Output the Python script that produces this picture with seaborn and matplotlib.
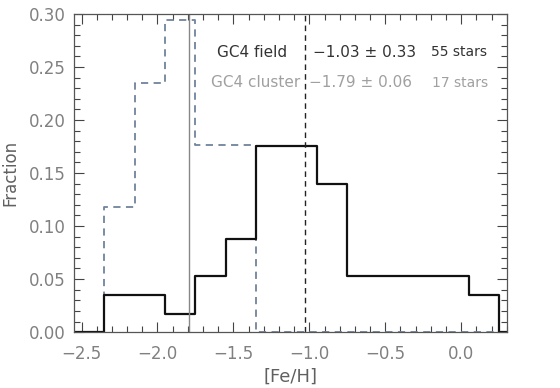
import numpy as np
import pandas as pd
import matplotlib
matplotlib.use("Agg")
import matplotlib.pyplot as plt
from matplotlib.ticker import MultipleLocator, FormatStrFormatter
import seaborn as sns

# bin edges in [Fe/H], width 0.2
bin_edges = [-2.55, -2.35, -2.15, -1.95, -1.75, -1.55, -1.35, -1.15,
             -0.95, -0.75, -0.55, -0.35, -0.15, 0.05, 0.25, 0.45]
# fraction per bin
field_frac = [0.0, 0.035, 0.035, 0.0175, 0.0526, 0.0877, 0.1754, 0.1754,
              0.140, 0.0526, 0.0526, 0.0526, 0.0526, 0.035, 0.0]
cluster_frac = [0.0, 0.118, 0.235, 0.294, 0.176, 0.176, 0.0, 0.0,
                0.0, 0.0, 0.0, 0.0, 0.0, 0.0, 0.0]
field_mean, field_sig, field_n = -1.03, 0.33, 55
cluster_mean, cluster_sig, cluster_n = -1.79, 0.06, 17

centers = [(a + b) / 2 for a, b in zip(bin_edges[:-1], bin_edges[1:])]
df = pd.DataFrame({"feh": centers, "field": field_frac, "cluster": cluster_frac})

sns.set_style("ticks")
plt.rcParams["font.family"] = ["DejaVu Sans"]
plt.rcParams["xtick.direction"] = "in"
plt.rcParams["ytick.direction"] = "in"

fig = plt.figure(figsize=(5.6, 3.88), dpi=100)
ax = fig.add_axes([0.132, 0.144, 0.773, 0.820])

sns.histplot(data=df, x="feh", weights="cluster", bins=bin_edges,
             element="step", fill=False, color="#71839c", linestyle=(0, (4, 3)),
             linewidth=1.3, ax=ax)
sns.histplot(data=df, x="feh", weights="field", bins=bin_edges,
             element="step", fill=False, color="#111111", linewidth=1.6, ax=ax)

ax.axvline(cluster_mean, color="#888888", linewidth=1.0)
ax.axvline(field_mean, color="#222222", linewidth=1.0, linestyle=(0, (4, 3)))

ax.set_xlim(-2.55, 0.30)
ax.set_ylim(0.0, 0.30)
ax.xaxis.set_major_locator(MultipleLocator(0.5))
ax.xaxis.set_minor_locator(MultipleLocator(0.1))
ax.yaxis.set_major_locator(MultipleLocator(0.05))
ax.yaxis.set_minor_locator(MultipleLocator(0.01))
ax.yaxis.set_major_formatter(FormatStrFormatter("%.2f"))
ax.tick_params(which="both", top=True, right=True, colors="#444444",
               labelcolor="#808080", labelsize=12)
ax.tick_params(which="major", length=7, width=0.8, pad=6)
ax.tick_params(axis="x", which="major", pad=9)
ax.tick_params(which="minor", length=4, width=0.8)
for s in ax.spines.values():
    s.set_color("#555555")
    s.set_linewidth(0.9)

ax.set_xlabel("[Fe/H]", fontsize=13, color="#606060", labelpad=4)
ax.set_ylabel("Fraction", fontsize=12, color="#606060", labelpad=7)

ax.text(-1.605, 0.264, "GC4 field", fontsize=11, color="#333333", va="center")
ax.text(-0.974, 0.264, f"\u2212{abs(field_mean):.2f} \u00b1 {field_sig:.2f}",
        fontsize=11, color="#333333", va="center")
ax.text(-0.197, 0.264, f"{field_n} stars", fontsize=10, color="#333333", va="center")
ax.text(-1.645, 0.235, "GC4 cluster", fontsize=11, color="#a0a0a0", va="center")
ax.text(-1.0, 0.235, f"\u2212{abs(cluster_mean):.2f} \u00b1 {cluster_sig:.2f}",
        fontsize=11, color="#a0a0a0", va="center")
ax.text(-0.19, 0.235, f"{cluster_n} stars", fontsize=10, color="#a0a0a0", va="center")

fig.savefig("out.png", dpi=100)
